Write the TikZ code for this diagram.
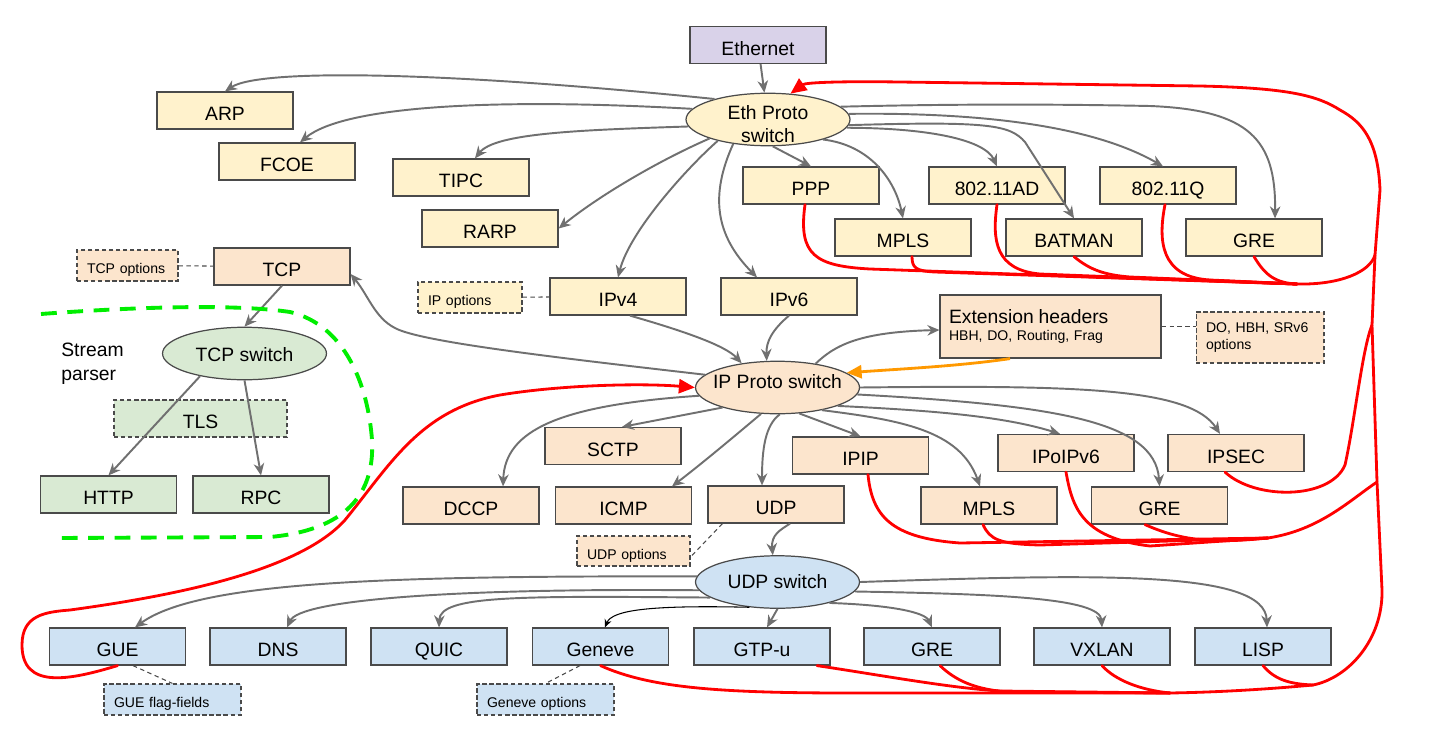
\documentclass[tikz,border=0pt]{standalone}
\usepackage{fontspec}
\setmainfont{Liberation Sans}
\usepackage{tikz}
\usetikzlibrary{arrows.meta,shapes.geometric}
\definecolor{lanc}{HTML}{D9D2E9}
\definecolor{ethc}{HTML}{FFF2CC}
\definecolor{ipc}{HTML}{FCE5CD}
\definecolor{tcpc}{HTML}{D9EAD3}
\definecolor{udpc}{HTML}{CFE2F3}
\definecolor{bordc}{HTML}{4A4A4A}
\definecolor{edgec}{HTML}{707070}
\definecolor{redc}{HTML}{FF0000}
\definecolor{orangec}{HTML}{FF9900}
\definecolor{greenc}{HTML}{00EE00}
\newcommand{\bigtxt}{\fontsize{11}{13.5}\selectfont}
\newcommand{\smalltxt}{\fontsize{8}{10}\selectfont}

\begin{document}
\begin{tikzpicture}[x=0.02cm,y=-0.02cm,
    box/.style={draw=bordc,line width=0.7pt,minimum width=2.72cm,minimum height=0.74cm,inner sep=1pt,text height=11.4pt,text depth=0pt,font=\bigtxt},
    optbox/.style={draw=bordc,line width=0.6pt,dash pattern=on 2.5pt off 1.5pt,inner xsep=0.2cm,inner ysep=1pt,text width=#1,align=left,font=\smalltxt},
    oneline/.style={text height=9.4pt,text depth=0pt},
    sw/.style={draw=bordc,line width=0.7pt,ellipse,inner sep=0pt,minimum width=3.28cm,minimum height=1.05cm},
    arr/.style={draw=edgec,line width=1.1pt,-{Stealth[length=2.4mm,width=2.1mm]}},
    rline/.style={draw=redc,line width=1.6pt,line cap=round},
    dline/.style={draw=bordc,line width=0.6pt,dash pattern=on 2.5pt off 2pt}]
    \fill[white,use as bounding box] (0,0) rectangle (1429,747);

    \node[box,fill=lanc] (ethernet) at (758,45) {Ethernet};
    \node[sw,fill=ethc,label={[align=center,font=\bigtxt,yshift=-0.09cm]center:{Eth Proto\\switch}}] (eth) at (768,119.5) {};
    \node[box,fill=ethc] (arp) at (225,110.5) {ARP};
    \node[box,fill=ethc] (fcoe) at (287,161.5) {FCOE};
    \node[box,fill=ethc] (tipc) at (461,177.5) {TIPC};
    \node[box,fill=ethc] (rarp) at (490,228.5) {RARP};
    \node[box,fill=ethc] (ppp) at (811,185.5) {PPP};
    \node[box,fill=ethc] (mplsa) at (903,237.5) {MPLS};
    \node[box,fill=ethc] (adhoc) at (997,185.5) {802.11AD};
    \node[box,fill=ethc] (batman) at (1074,237.5) {BATMAN};
    \node[box,fill=ethc] (vlan) at (1168,185.5) {802.11Q};
    \node[box,fill=ethc] (grea) at (1254,237.5) {GRE};
    \node[box,fill=ethc] (ipv4) at (618,296.5) {IPv4};
    \node[box,fill=ethc] (ipv6) at (789,296.5) {IPv6};
    \node[optbox=1.68cm,oneline,fill=ethc,minimum height=0.62cm] (ipopt) at (470,297.5) {IP options};

    \node[box,fill=ipc] (tcp) at (282,266.5) {TCP};
    \node[optbox=1.62cm,oneline,fill=ipc,minimum height=0.62cm] (tcpopt) at (127.5,265.5) {TCP options};
    \node[draw=bordc,line width=0.7pt,fill=ipc,minimum height=1.26cm,inner xsep=0.18cm,text width=4.06cm,align=left,font=\smalltxt] (ext) at (1050.5,326.5) {{\bigtxt Extension headers}\\HBH, DO, Routing, Frag};
    \node[optbox=2.16cm,fill=ipc,minimum height=1.02cm] (extopt) at (1260,337.5) {DO, HBH, SRv6\\options};
    \node[sw,fill=ipc,label={[font=\bigtxt,yshift=0.11cm]center:IP Proto switch}] (ip) at (777.5,387.5) {};
    \node[box,fill=ipc] (sctp) at (613,446) {SCTP};
    \node[box,fill=ipc] (dccp) at (471,505.5) {DCCP};
    \node[box,fill=ipc] (icmp) at (623.5,505.5) {ICMP};
    \node[box,fill=ipc] (udp) at (776,504.5) {UDP};
    \node[optbox=1.86cm,oneline,fill=ipc,minimum height=0.6cm] (udpopt) at (633.5,551) {UDP options};
    \node[box,fill=ipc] (ipip) at (860.5,455.5) {IPIP};
    \node[box,fill=ipc] (mplsb) at (989,505.5) {MPLS};
    \node[box,fill=ipc] (ipoip6) at (1066,453) {IPoIPv6};
    \node[box,fill=ipc] (greb) at (1159.5,505.5) {GRE};
    \node[box,fill=ipc] (ipsec) at (1236,453) {IPSEC};

    \node[sw,fill=tcpc,label={[font=\bigtxt,yshift=-0.03cm]center:TCP switch}] (tcpsw) at (244.5,353.5) {};
    \node[box,fill=tcpc,dash pattern=on 2.5pt off 1.5pt,line width=0.6pt,minimum width=3.46cm] (tls) at (200.5,418.5) {TLS};
    \node[box,fill=tcpc] (http) at (108.5,494.5) {HTTP};
    \node[box,fill=tcpc] (rpc) at (261,494.5) {RPC};
    \node[font=\bigtxt,align=left,anchor=west,inner sep=0pt] (stream) at (61,364) {Stream\\parser};

    \node[sw,fill=udpc,label={[font=\bigtxt]center:UDP switch}] (us) at (777.5,582) {};
    \node[box,fill=udpc] (gue) at (117.5,646.5) {GUE};
    \node[box,fill=udpc] (dns) at (278,646.5) {DNS};
    \node[box,fill=udpc] (quic) at (439,646.5) {QUIC};
    \node[box,fill=udpc] (geneve) at (600.5,646.5) {Geneve};
    \node[box,fill=udpc] (gtpu) at (762,646.5) {GTP-u};
    \node[box,fill=udpc] (grec) at (932,646.5) {GRE};
    \node[box,fill=udpc] (vxlan) at (1102,646.5) {VXLAN};
    \node[box,fill=udpc] (lisp) at (1263,646.5) {LISP};
    \node[optbox=2.34cm,oneline,fill=udpc,minimum height=0.62cm] (gueopt) at (172.5,699.5) {GUE flag-fields};
    \node[optbox=2.34cm,oneline,fill=udpc,minimum height=0.62cm] (genopt) at (545.5,699.5) {Geneve options};

    \draw[dline] (tcpopt) -- (tcp);
    \draw[dline] (ipopt) -- (ipv4);
    \draw[dline] (ext.east) -- (ext.east -| extopt.west);
    \draw[dline] ([xshift=0.3cm]udp.south west) -- ([yshift=-0.12cm]udpopt.east);
    \draw[dline] ([xshift=0.31cm]gue.south) -- (gueopt.north);
    \draw[dline] ([xshift=-0.41cm]geneve.south) -- (genopt.north);

    \draw[arr] (ethernet) -- (eth);
    \draw[arr] (eth.159) .. controls (450,72) and (260,68) .. (arp.north);
    \draw[arr] (eth.172) .. controls (500,98) and (345,105) .. ([xshift=0.26cm]fcoe.north);
    \draw[arr] (eth.185) .. controls (580,130) and (495,133) .. ([xshift=0.28cm]tipc.north);
    \draw[arr] (eth.198) .. controls (660,160) and (600,195) .. (rarp.east);
    \draw[arr] (eth.203) .. controls (690,165) and (630,230) .. (ipv4.north);
    \draw[arr] (eth.215) .. controls (710,195) and (715,235) .. ([xshift=-0.64cm]ipv6.north);
    \draw[arr] (eth.280) -- (ppp.north);
    \draw[arr] (eth.340) .. controls (870,145) and (895,180) .. (mplsa.north);
    \draw[arr] (eth.354) .. controls (930,128) and (985,140) .. (adhoc.north);
    \draw[arr] (eth.-4) .. controls (990,121) and (1010,125) .. (1025,142) -- (batman.north);
    \draw[arr] (eth.4) .. controls (1000,112) and (1100,130) .. ([xshift=-0.1cm]vlan.north);
    \draw[arr] (eth.10) .. controls (950,104) and (1050,104) .. (1150,106) .. controls (1250,110) and (1276,140) .. ([xshift=0.42cm]grea.north);

    \draw[arr] ([xshift=0.24cm]ipv4.south) .. controls (680,330) and (725,345) .. (ip.146);
    \draw[arr] (ipv6.south) .. controls (772,330) and (766,342) .. (ip.112);
    \draw[arr] (ip.170) .. controls (560,358) and (420,342) .. (395,328) .. controls (375,318) and (368,295) .. ([yshift=-0.15cm]tcp.east);
    \draw[arr] (ip.32) .. controls (835,345) and (860,332) .. ([yshift=-0.07cm]ext.west);
    \draw[draw=orangec,line width=1.6pt,-{Triangle[length=3mm,width=2.6mm]}] ([xshift=-0.81cm]ext.south) .. controls (960,366) and (900,369) .. (ip.12);
    \draw[arr] (ip.200) -- ([xshift=0.18cm]sctp.north);
    \draw[arr] (ip.186) .. controls (560,405) and (505,430) .. ([xshift=0.64cm]dccp.north);
    \draw[arr] (ip.238) .. controls (730,440) and (700,465) .. ([xshift=0.97cm]icmp.north);
    \draw[arr] (ip.275) .. controls (765,425) and (762,450) .. ([xshift=-0.28cm]udp.north);
    \draw[arr] (ip.310) -- (ipip.north);
    \draw[arr] (ip.333) .. controls (900,420) and (960,430) .. ([xshift=-0.18cm]mplsb.north);
    \draw[arr] (ip.343) .. controls (920,410) and (1000,415) .. ([xshift=-0.12cm]ipoip6.north);
    \draw[arr] (ip.355) .. controls (1050,405) and (1155,420) .. (greb.north);
    \draw[arr] (ip.east) .. controls (1080,385) and (1190,388) .. ([xshift=-0.32cm]ipsec.north);

    \draw[arr] (tcp.south) -- (tcpsw.north);
    \draw[arr] (tcpsw.207) -- (http.north);
    \draw[arr] (tcpsw.south) -- (rpc.north);

    \draw[arr] ([xshift=0.28cm]udp.south) .. controls (780,530) and (771,535) .. (us.100);
    \draw[arr] (us.176) .. controls (400,576) and (200,580) .. ([xshift=0.35cm]gue.north);
    \draw[arr] (us.186) .. controls (450,588) and (300,600) .. ([xshift=0.18cm]dns.north);
    \draw[arr] (us.193) .. controls (520,596) and (440,595) .. (quic.north);
    \draw[draw=black,line width=0.6pt,-{Stealth[length=1.6mm,width=1.4mm]}] (us.222) .. controls (650,605) and (612,610) .. ([xshift=0.09cm]geneve.north);
    \draw[arr] (us.south) -- ([xshift=0.1cm]gtpu.north);
    \draw[arr] (us.338) .. controls (890,605) and (925,612) .. (grec.north);
    \draw[arr] (us.353) .. controls (1000,594) and (1100,598) .. (vxlan.north);
    \draw[arr] (us.east) .. controls (1100,574) and (1265,570) .. ([xshift=0.08cm]lisp.north);

    \coordinate (ethj) at (1375,255);
    \coordinate (ethb) at (1297,284);
    \coordinate (ipsecj) at (1372,325);
    \coordinate (ipj) at (1377,482);
    \coordinate (ipb) at (1268,538);
    \coordinate (udpb) at (1170,693);
    \coordinate (udpj) at (1313,685);

    \draw[rline,-{Triangle[length=3.2mm,width=2.8mm]}] (udpj) .. controls (1348,678) and (1383,640) .. (1382,590) -- (ipj) -- (ipsecj) -- (ethj) -- (1380,190) .. controls (1378,140) and (1362,122) .. (1340,110) .. controls (1318,96) and (1290,88) .. (1200,86) -- (900,82) .. controls (830,81) and (805,83) .. (eth.49);
    \draw[rline] (ethb) .. controls (1340,285) and (1370,272) .. (ethj);
    \draw[rline] ([xshift=-0.12cm]ppp.south) .. controls (798,255) and (815,266) .. (870,269) -- (ethb);
    \draw[rline] ([xshift=0.18cm]mplsa.south) .. controls (912,268) and (916,271) .. (935,272) -- (ethb);
    \draw[rline] (adhoc.south) .. controls (992,240) and (995,270) .. (1040,274) -- (ethb);
    \draw[rline] (batman.south) .. controls (1090,270) and (1105,275) .. (1130,277) -- (ethb);
    \draw[rline] ([xshift=-0.06cm]vlan.south) .. controls (1158,240) and (1160,277) .. (1210,280) -- (ethb);
    \draw[rline] (grea.south) .. controls (1265,275) and (1275,283) .. (ethb);
    \draw[rline] ([xshift=-0.22cm]ipsec.south) .. controls (1255,500) and (1330,500) .. (1345,465) .. controls (1355,420) and (1362,350) .. (ipsecj);
    \draw[rline] (ipb) .. controls (1320,530) and (1350,500) .. (ipj);
    \draw[rline] ([xshift=0.15cm]ipip.south) .. controls (872,515) and (890,538) .. (960,543) -- (ipb);
    \draw[rline] ([xshift=-0.12cm]mplsb.south) .. controls (990,540) and (1000,544) .. (1040,545) -- (ipb);
    \draw[rline] (ipoip6.south) .. controls (1072,505) and (1080,538) .. (1150,546) -- (ipb);
    \draw[rline] ([xshift=-0.29cm]greb.south) .. controls (1180,540) and (1210,544) .. (ipb);
    \draw[rline] (udpb) .. controls (1230,692) and (1280,688) .. (udpj);
    \draw[rline] (geneve.south) .. controls (650,688) and (720,693) .. (850,693) -- (udpb);
    \draw[rline] ([xshift=1.1cm]gtpu.south) .. controls (880,675) and (950,688) .. (1000,691) -- (udpb);
    \draw[rline] ([xshift=0.16cm]grec.south) .. controls (955,680) and (975,690) .. (1010,692) -- (udpb);
    \draw[rline] (vxlan.south) .. controls (1115,680) and (1140,690) .. (udpb);
    \draw[rline] (lisp.south) .. controls (1275,680) and (1290,684) .. (udpj);
    \draw[rline,-{Triangle[length=3.2mm,width=2.8mm]}] (gue.south) .. controls (70,680) and (22,690) .. (22,645) .. controls (22,615) and (45,612) .. (70,610) .. controls (180,595) and (300,570) .. (345,520) .. controls (390,465) and (420,410) .. (500,395) .. controls (560,385) and (640,383) .. (ip.west);

    \draw[greenc,line width=2.2pt,dash pattern=on 9pt off 6pt] (41,314) .. controls (120,308) and (230,303) .. (290,312) .. controls (345,325) and (368,385) .. (372,440) .. controls (375,495) and (345,530) .. (270,537) -- (57,538);
\end{tikzpicture}
\end{document}
